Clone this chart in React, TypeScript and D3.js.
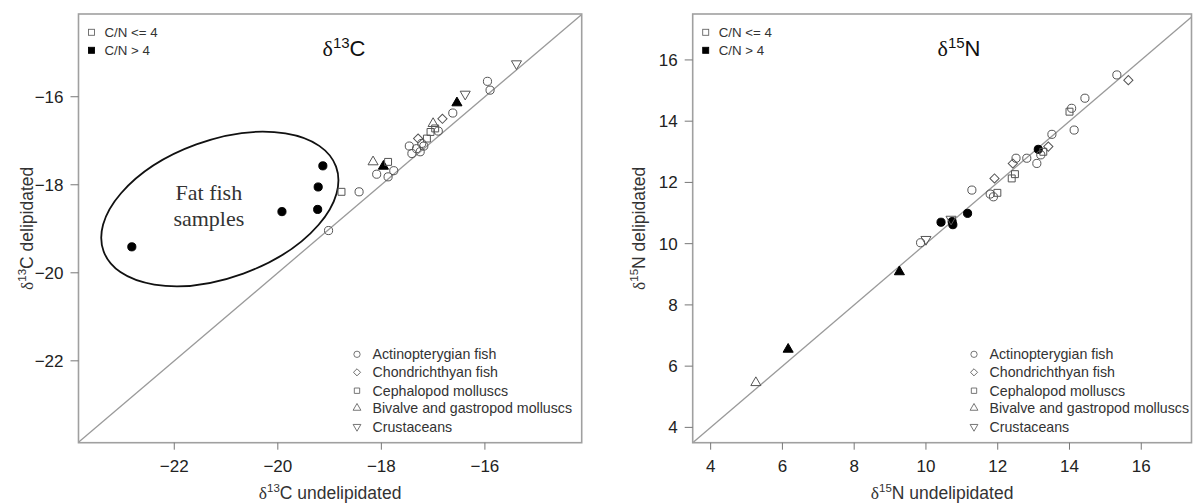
import React from "react";
import * as d3 from "d3";

const WIDTH = 1193;
const HEIGHT = 504;

// Group codes: act = Actinopterygian fish, cho = Chondrichthyan fish,
// cep = Cephalopod molluscs, biv = Bivalve and gastropod molluscs, cru = Crustaceans
const groupKeys = ["act", "cho", "cep", "biv", "cru"];
const groupNames = [
  "Actinopterygian fish",
  "Chondrichthyan fish",
  "Cephalopod molluscs",
  "Bivalve and gastropod molluscs",
  "Crustaceans",
];
const cnLabels = ["C/N <= 4", "C/N > 4"];

// δ13C: undelipidated vs delipidated
const c13Undelip = [
  -22.82, -19.92, -19.23, -19.22, -19.13, -19.02, -18.77, -18.43, -18.16, -17.96,
  -17.87, -18.09, -17.76, -17.87, -17.46, -17.41, -17.32, -17.29, -17.22, -17.18,
  -17.12, -17.25, -17.0, -16.96, -16.82, -16.62, -16.54, -16.38, -15.95, -15.9,
  -15.39, -17.05, -16.9,
];
const c13Delip = [
  -19.41, -18.61, -18.56, -18.05, -17.57, -19.04, -18.16, -18.16, -17.48, -17.58,
  -17.48, -17.76, -17.68, -17.82, -17.12, -17.29, -17.18, -16.95, -17.06, -17.12,
  -16.95, -17.25, -16.61, -16.72, -16.5, -16.37, -16.14, -15.94, -15.65, -15.85,
  -15.25, -16.8, -16.78,
];
const c13Group = [
  "act", "act", "act", "act", "act", "act", "cep", "act", "biv", "biv",
  "cep", "act", "act", "act", "act", "act", "act", "cho", "act", "act",
  "cep", "act", "biv", "cep", "cho", "act", "biv", "cru", "act", "act",
  "cru", "cep", "act",
];
const c13HighCN = [
  1, 1, 1, 1, 1, 0, 0, 0, 0, 1,
  0, 0, 0, 0, 0, 0, 0, 0, 0, 0,
  0, 0, 0, 0, 0, 0, 1, 0, 0, 0,
  0, 0, 0,
];

// δ15N: undelipidated vs delipidated
const n15Undelip = [
  5.26, 6.16, 9.26, 9.85, 10.0, 10.42, 10.73, 10.75, 10.7, 11.16,
  11.28, 11.79, 11.88, 11.99, 11.91, 12.39, 12.48, 12.42, 12.51, 12.81,
  13.09, 13.13, 13.27, 13.41, 13.51, 14.13, 14.0, 14.06, 14.43, 15.32,
  15.64, 13.2,
];
const n15Delip = [
  5.46, 6.55, 9.08, 10.03, 10.14, 10.7, 10.72, 10.62, 10.8, 10.99,
  11.75, 11.62, 11.53, 11.66, 12.13, 12.13, 12.27, 12.62, 12.79, 12.79,
  12.62, 13.08, 13.0, 13.17, 13.57, 13.71, 14.31, 14.42, 14.75, 15.51,
  15.34, 12.9,
];
const n15Group = [
  "biv", "biv", "biv", "act", "cru", "act", "act", "act", "cru", "act",
  "act", "act", "act", "cep", "cho", "cep", "cep", "cho", "act", "act",
  "act", "act", "cep", "cho", "act", "act", "cep", "act", "act", "act",
  "cho", "act",
];
const n15HighCN = [
  0, 1, 1, 0, 0, 1, 1, 1, 0, 1,
  0, 0, 0, 0, 0, 0, 0, 0, 0, 0,
  0, 1, 0, 0, 0, 0, 0, 0, 0, 0,
  0, 0,
];

const c13Ticks = [-22, -20, -18, -16];
const n15Ticks = [4, 6, 8, 10, 12, 14, 16];

const SANS = "'Liberation Sans', Arial, Helvetica, sans-serif";
const SERIF = "'Liberation Serif', 'Times New Roman', serif";

function markerPath(key: string, k = 1): string {
  switch (key) {
    case "act":
      return d3.symbol(d3.symbolCircle, 52 * k)() as string;
    case "cho":
      return d3.symbol(d3.symbolSquare, 42 * k)() as string;
    case "cep":
      return d3.symbol(d3.symbolSquare, 48 * k)() as string;
    default:
      return d3.symbol(d3.symbolTriangle, 44 * k)() as string;
  }
}
function markerRotation(key: string): number {
  if (key === "cho") return 45;
  if (key === "cru") return 180;
  return 0;
}

const fmt = (v: number) => (v < 0 ? "\u2212" + Math.abs(v) : String(v));

type PanelProps = {
  box: { left: number; right: number; top: number; bottom: number };
  xDomain: [number, number];
  yDomain: [number, number];
  ticks: number[];
  xs: number[];
  ys: number[];
  groups: string[];
  high: number[];
  iso: string;
  elem: string;
  titleX: number;
  yTitleX: number;
  legendBottomX: number;
  ellipse?: boolean;
};

function Panel(p: PanelProps) {
  const { box } = p;
  const x = d3.scaleLinear().domain(p.xDomain).range([box.left, box.right]);
  const y = d3.scaleLinear().domain(p.yDomain).range([box.bottom, box.top]);
  const lo = Math.max(p.xDomain[0], p.yDomain[0]);
  const hi = Math.min(p.xDomain[1], p.yDomain[1]);
  const legendRows = [354.3, 372.3, 390.7, 408, 426.7];
  const tickColor = "#777";

  const isoLabel = (size: number, sup: number, rest: string) => (
    <>
      <tspan fontFamily={SERIF}>δ</tspan>
      <tspan fontSize={sup} dy={-size * 0.38}>{p.iso}</tspan>
      <tspan dy={size * 0.38}>{rest}</tspan>
    </>
  );

  return (
    <g>
      {/* 1:1 reference line */}
      <line x1={x(lo)} y1={y(lo)} x2={x(hi)} y2={y(hi)} stroke="#9a9a9a" strokeWidth={1.3} />

      {/* plot frame */}
      <rect
        x={box.left}
        y={box.top}
        width={box.right - box.left}
        height={box.bottom - box.top}
        fill="none"
        stroke="#a0a0a0"
        strokeWidth={1.6}
      />

      {/* x axis */}
      {p.ticks.map((t) => (
        <g key={"xt" + t}>
          <line x1={x(t)} x2={x(t)} y1={box.bottom} y2={box.bottom + 7} stroke={tickColor} />
          <text x={x(t)} y={472} textAnchor="middle" fontFamily={SANS} fontSize={17} fill="#222">
            {fmt(t)}
          </text>
        </g>
      ))}
      {/* y axis */}
      {p.ticks.map((t) => (
        <g key={"yt" + t}>
          <line x1={box.left - 8} x2={box.left} y1={y(t)} y2={y(t)} stroke={tickColor} />
          <text x={box.left - 15} y={y(t) + 6} textAnchor="end" fontFamily={SANS} fontSize={17} fill="#222">
            {fmt(t)}
          </text>
        </g>
      ))}

      {/* axis titles */}
      <text
        x={(box.left + box.right) / 2}
        y={499}
        textAnchor="middle"
        fontFamily={SANS}
        fontSize={17.5}
        fill="#333"
      >
        {isoLabel(17.5, 11.5, p.elem + " undelipidated")}
      </text>
      <text
        transform={`translate(${p.yTitleX},${(box.top + box.bottom) / 2}) rotate(-90)`}
        textAnchor="middle"
        fontFamily={SANS}
        fontSize={17.5}
        fill="#333"
      >
        {isoLabel(17.5, 11.5, p.elem + " delipidated")}
      </text>

      {/* panel title */}
      <text x={p.titleX} y={56} textAnchor="middle" fontFamily={SANS} fontSize={22} fill="#111">
        {isoLabel(22, 15, p.elem)}
      </text>

      {/* fat fish annotation */}
      {p.ellipse && (
        <g transform={`translate(${x(-21.12)},${y(-18.55)})`}>
          <ellipse rx={123.7} ry={68.7} transform="rotate(-20)" fill="none" stroke="#111" strokeWidth={1.8} />
          <text x={-11} y={-9} textAnchor="middle" fontFamily={SERIF} fontSize={22} fill="#333">
            Fat fish
          </text>
          <text x={-11} y={17} textAnchor="middle" fontFamily={SERIF} fontSize={22} fill="#333">
            samples
          </text>
        </g>
      )}

      {/* samples */}
      {p.xs.map((v, i) => {
        const key = p.groups[i];
        const filled = p.high[i] === 1;
        return (
          <path
            key={"pt" + i}
            d={markerPath(key)}
            transform={`translate(${x(v)},${y(p.ys[i])}) rotate(${markerRotation(key)})`}
            fill={filled ? "#000" : "none"}
            stroke={filled ? "#000" : "#555"}
            strokeWidth={1}
          />
        );
      })}

      {/* C/N legend */}
      {cnLabels.map((lab, i) => (
        <g key={"cn" + i}>
          <rect
            x={box.left + 13 - 3}
            y={32.3 + i * 18 - 3}
            width={6}
            height={6}
            fill={i === 1 ? "#000" : "#fff"}
            stroke={i === 1 ? "#000" : "#666"}
            strokeWidth={0.9}
          />
          <text x={box.left + 26} y={32.3 + i * 18 + 4.4} fontFamily={SANS} fontSize={13.3} fill="#333">
            {lab}
          </text>
        </g>
      ))}

      {/* group legend */}
      {groupKeys.map((k, i) => (
        <g key={"lg" + k}>
          <path
            d={markerPath(k, 0.6)}
            transform={`translate(${p.legendBottomX},${legendRows[i]}) rotate(${markerRotation(k)})`}
            fill="none"
            stroke="#666"
            strokeWidth={0.9}
          />
          <text
            x={p.legendBottomX + 15.5}
            y={legendRows[i] + 4.8}
            fontFamily={SANS}
            fontSize={14.2}
            fill="#333"
          >
            {groupNames[i]}
          </text>
        </g>
      ))}
    </g>
  );
}

export default function App() {
  return (
    <svg
      width={WIDTH}
      height={HEIGHT}
      viewBox={`0 0 ${WIDTH} ${HEIGHT}`}
      style={{ position: "absolute", left: 0, top: 0, background: "#fff" }}
    >
      <rect width={WIDTH} height={HEIGHT} fill="#fff" />
      <Panel
        box={{ left: 78.5, right: 581.7, top: 14, bottom: 442.7 }}
        xDomain={[-23.85, -14.13]}
        yDomain={[-23.86, -14.12]}
        ticks={c13Ticks}
        xs={c13Undelip}
        ys={c13Delip}
        groups={c13Group}
        high={c13HighCN}
        iso="13"
        elem="C"
        titleX={344}
        yTitleX={33}
        legendBottomX={357}
        ellipse
      />
      <Panel
        box={{ left: 692.7, right: 1191.5, top: 14, bottom: 442.7 }}
        xDomain={[3.5, 17.4]}
        yDomain={[3.5, 17.5]}
        ticks={n15Ticks}
        xs={n15Undelip}
        ys={n15Delip}
        groups={n15Group}
        high={n15HighCN}
        iso="15"
        elem="N"
        titleX={959}
        yTitleX={645}
        legendBottomX={974}
      />
    </svg>
  );
}
